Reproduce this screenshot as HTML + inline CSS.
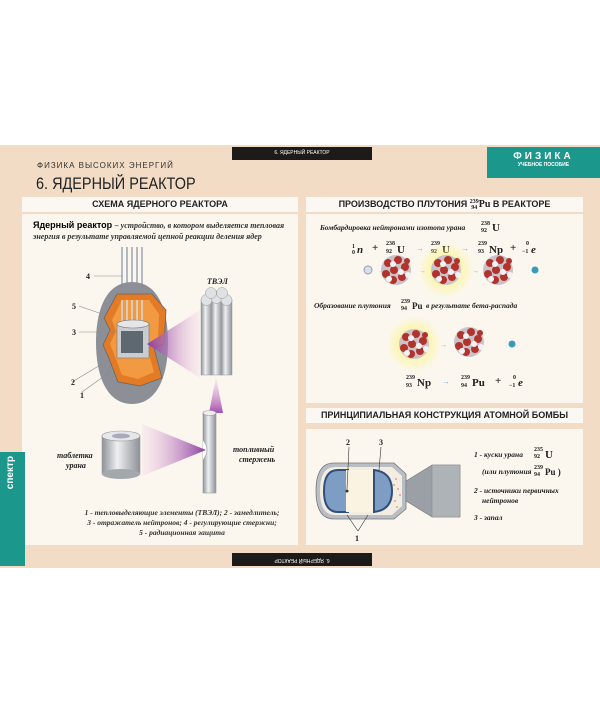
<!DOCTYPE html>
<html><head><meta charset="utf-8"><style>
body{margin:0;width:600px;height:713px;background:#fff;position:relative;overflow:hidden;font-family:"Liberation Sans",sans-serif}
.a{position:absolute}
.hd{position:absolute;background:#fbf8f4;font-weight:bold;font-size:9px;text-align:center;line-height:15px;color:#222}
.pn{position:absolute;background:#fbf7ef}
.it{font-family:"Liberation Serif",serif;font-style:italic;font-weight:bold;color:#333}
.sf{font-family:"Liberation Serif",serif;font-weight:bold;color:#222}
</style></head><body>
<div class="a" style="left:0;top:145px;width:600px;height:423px;background:#f2dcc6"></div>
<div class="a" style="left:232px;top:147px;width:140px;height:13px;background:#1d1a1a;color:#fff;font-size:5px;text-align:center;line-height:13px">6. ЯДЕРНЫЙ РЕАКТОР</div>
<div class="a" style="left:487px;top:147px;width:113px;height:31px;background:#1c978c;color:#fff;text-align:center">
<div style="font-weight:bold;font-size:10px;letter-spacing:3px;margin-top:4px">ФИЗИКА</div><div style="font-size:5px;font-weight:bold">УЧЕБНОЕ ПОСОБИЕ</div></div>
<div class="a" style="left:37px;top:161px;font-size:8px;letter-spacing:1px;color:#333">ФИЗИКА ВЫСОКИХ ЭНЕРГИЙ</div>
<div class="a" style="left:36px;top:174px;font-size:17px;color:#222;transform:scaleX(.85);transform-origin:left">6. ЯДЕРНЫЙ РЕАКТОР</div>
<div class="hd" style="left:22px;top:197px;width:276px">СХЕМА ЯДЕРНОГО РЕАКТОРА</div>
<div class="hd" style="left:306px;top:197px;width:277px">ПРОИЗВОДСТВО ПЛУТОНИЯ <span class="sf" style="font-size:6px;display:inline-block;line-height:6px;vertical-align:middle">239<br>94</span><span class="sf" style="font-size:10px">Pu</span> В РЕАКТОРЕ</div>
<div class="pn" style="left:22px;top:214px;width:276px;height:331px"></div>
<div class="pn" style="left:306px;top:214px;width:277px;height:189px"></div>
<div class="hd" style="left:306px;top:408px;width:277px">ПРИНЦИПИАЛЬНАЯ КОНСТРУКЦИЯ АТОМНОЙ БОМБЫ</div>
<div class="pn" style="left:306px;top:429px;width:277px;height:116px"></div>
<div class="a" style="left:232px;top:553px;width:140px;height:13px;background:#1d1a1a;color:#fff;font-size:5px;text-align:center;line-height:13px;transform:rotate(180deg)">6. ЯДЕРНЫЙ РЕАКТОР</div>
<div class="a" style="left:0;top:452px;width:25px;height:114px;background:#1c978c"></div>
<div class="a" style="left:5px;top:456px;color:#fff;font-size:10px;font-weight:bold;writing-mode:vertical-rl;transform:rotate(180deg)">спектр</div>
<div class="a" style="left:33px;top:220px;font-size:9px;line-height:11px;width:260px"><b style="font-size:9px">Ядерный реактор</b> <span class="it" style="font-size:8px">– устройство, в котором выделяется тепловая энергия в результате управляемой цепной реакции деления ядер</span></div>
<svg class="a" style="left:22px;top:214px" width="276" height="331">
<defs><linearGradient id="pk" x1="0" x2="1"><stop offset="0" stop-color="#8a3ea0"/><stop offset="1" stop-color="#f3c6e4" stop-opacity=".2"/></linearGradient>
<linearGradient id="pk2" x1="1" x2="0"><stop offset="0" stop-color="#8a3ea0"/><stop offset="1" stop-color="#f3c6e4" stop-opacity=".2"/></linearGradient>
<linearGradient id="pkv" x1="0" y1="1" x2="0" y2="0"><stop offset="0" stop-color="#a24fb0"/><stop offset="1" stop-color="#f3c6e4" stop-opacity=".3"/></linearGradient>
<linearGradient id="cy" x1="0" x2="1"><stop offset="0" stop-color="#8d9196"/><stop offset=".4" stop-color="#eef0f2"/><stop offset="1" stop-color="#8d9196"/></linearGradient></defs>
<g stroke="#b4b8c0" stroke-width="2"><line x1="100" y1="33" x2="100" y2="80"/><line x1="105" y1="33" x2="105" y2="80"/><line x1="110" y1="33" x2="110" y2="80"/><line x1="115" y1="33" x2="115" y2="80"/><line x1="120" y1="33" x2="120" y2="80"/></g>
<path d="M110 68 C138 68 146 100 146 128 C146 168 132 190 110 190 C88 190 74 168 74 128 C74 100 82 68 110 68Z" fill="#8c9096"/>
<path d="M95 80 L130 80 L144 96 L142 130 L132 134 L140 164 L118 172 L96 168 L86 142 L81 131 L88 116 L82 104 Z" fill="#e27a26" stroke="#666" stroke-width=".8"/>
<path d="M100 86 L127 86 L137 100 L136 128 L125 133 L132 158 L116 165 L100 161 L92 140 L88 130 L94 117 L90 106 Z" fill="#f29a42"/>
<g stroke="#d7dae0" stroke-width="1.5"><line x1="100" y1="86" x2="100" y2="110"/><line x1="105" y1="86" x2="105" y2="110"/><line x1="110" y1="86" x2="110" y2="110"/><line x1="115" y1="86" x2="115" y2="110"/><line x1="120" y1="86" x2="120" y2="110"/></g>
<rect x="95" y="110" width="32" height="34" fill="#c9ccd0" stroke="#777" stroke-width=".6"/>
<ellipse cx="111" cy="110" rx="16" ry="4" fill="#e4e6e8" stroke="#777" stroke-width=".6"/>
<rect x="99" y="117" width="22" height="22" fill="#5e6870"/>
<polygon points="125,130 178,96 178,164" fill="url(#pk)"/>
<g fill="url(#cy)" stroke="#999" stroke-width=".5"><rect x="179" y="86" width="11" height="75"/><rect x="189" y="84" width="11" height="77"/><rect x="199" y="86" width="11" height="75"/></g>
<g fill="#dfe2e5" stroke="#999" stroke-width=".5"><circle cx="184.5" cy="86" r="5.5"/><circle cx="194.5" cy="84" r="5.5"/><circle cx="204.5" cy="86" r="5.5"/><circle cx="189" cy="79" r="5.5"/><circle cx="200" cy="79" r="5.5"/></g>
<polygon points="194,163 187,199 201,199" fill="url(#pkv)"/>
<rect x="181" y="199" width="13" height="80" fill="url(#cy)" stroke="#999" stroke-width=".6"/>
<ellipse cx="187.5" cy="199" rx="6.5" ry="2.5" fill="#eee" stroke="#999" stroke-width=".6"/>
<path d="M181 226 Q189 236 181 246" fill="#fff" stroke="#999" stroke-width=".6"/>
<polygon points="120,210 184,236 120,262" fill="url(#pk2)"/>
<rect x="80" y="222" width="38" height="38" fill="url(#cy)" stroke="#999" stroke-width=".6"/>
<ellipse cx="99" cy="260" rx="19" ry="5" fill="#a3a8ad"/>
<ellipse cx="99" cy="222" rx="19" ry="5" fill="#e5e7e9" stroke="#999" stroke-width=".6"/>
<ellipse cx="99" cy="222" rx="9" ry="2.5" fill="#aab"/>
<g stroke="#888" stroke-width=".6"><line x1="72" y1="62" x2="100" y2="62"/><line x1="57" y1="92" x2="80" y2="100"/><line x1="57" y1="118" x2="95" y2="118"/><line x1="50" y1="168" x2="80" y2="150"/><line x1="60" y1="178" x2="88" y2="158"/></g>
<g font-family="Liberation Serif" font-weight="bold" font-size="8" fill="#222"><text x="64" y="65">4</text><text x="50" y="95">5</text><text x="50" y="121">3</text><text x="49" y="171">2</text><text x="58" y="184">1</text>
<text x="185" y="70" font-style="italic">ТВЭЛ</text>
<text x="35" y="244" font-style="italic">таблетка</text><text x="44" y="254" font-style="italic">урана</text>
<text x="211" y="238" font-style="italic">топливный</text><text x="217" y="248" font-style="italic">стержень</text></g>
<g font-family="Liberation Serif" font-weight="bold" font-style="italic" font-size="7.5" fill="#333" text-anchor="middle"><text x="160" y="301">1 - тепловыделяющие элементы (ТВЭЛ);   2 - замедлитель;</text><text x="160" y="311">3 - отражатель нейтронов;  4 - регулирующие стержни;</text><text x="160" y="321">5 - радиационная защита</text></g>
</svg>
<svg class="a" style="left:306px;top:214px" width="277" height="189">
<defs><radialGradient id="gl"><stop offset="0" stop-color="#fff36a"/><stop offset="1" stop-color="#fff36a" stop-opacity="0"/></radialGradient>
<g id="nu"><circle r="15" fill="#c9c2c8"/><g fill="#b2332b"><circle cx="-8" cy="-7" r="4"/><circle cx="2" cy="-10" r="4"/><circle cx="9" cy="-3" r="4"/><circle cx="-2" cy="0" r="4"/><circle cx="-10" cy="4" r="4"/><circle cx="6" cy="7" r="4"/><circle cx="-3" cy="10" r="4"/><circle cx="11" cy="-9" r="3"/></g><g fill="#f2f2f4"><circle cx="-3" cy="-6" r="3"/><circle cx="5" cy="2" r="3"/><circle cx="-7" cy="9" r="3"/><circle cx="12" cy="5" r="3"/></g></g></defs>
<g font-family="Liberation Serif" font-weight="bold" fill="#222">
<text x="14" y="16" font-size="7.5" font-style="italic">Бомбардировка нейтронами изотопа урана</text>
<text x="175" y="11" font-size="6">238</text><text x="175" y="18" font-size="6">92</text><text x="186" y="17" font-size="11">U</text>
<g font-size="11"><text x="46" y="34" font-size="6">1</text><text x="46" y="40" font-size="6">0</text><text x="51" y="39" font-style="italic">n</text><text x="66" y="37">+</text>
<text x="80" y="31" font-size="6">238</text><text x="80" y="39" font-size="6">92</text><text x="91" y="39">U</text><text x="110" y="37" fill="#6bc" font-size="8">→</text>
<text x="125" y="31" font-size="6">239</text><text x="125" y="39" font-size="6">92</text><text x="136" y="39">U</text><text x="155" y="37" fill="#6bc" font-size="8">→</text>
<text x="172" y="31" font-size="6">239</text><text x="172" y="39" font-size="6">93</text><text x="183" y="39">Np</text><text x="204" y="37">+</text>
<text x="220" y="31" font-size="6">0</text><text x="216" y="39" font-size="6">−1</text><text x="225" y="39" font-style="italic">e</text></g>
<text x="8" y="94" font-size="7.5" font-style="italic">Образование плутония</text><text x="95" y="89" font-size="6">239</text><text x="95" y="96" font-size="6">94</text><text x="106" y="95" font-size="9">Pu</text><text x="120" y="94" font-size="7.5" font-style="italic">в результате бета-распада</text>
<g font-size="11"><text x="100" y="165" font-size="6">239</text><text x="100" y="173" font-size="6">93</text><text x="111" y="172">Np</text><text x="136" y="170" fill="#6bc" font-size="8">→</text>
<text x="155" y="165" font-size="6">239</text><text x="155" y="173" font-size="6">94</text><text x="166" y="172">Pu</text><text x="189" y="170">+</text>
<text x="207" y="165" font-size="6">0</text><text x="203" y="173" font-size="6">−1</text><text x="212" y="172" font-style="italic">e</text></g></g>
<circle cx="62" cy="56" r="4" fill="#d5dfeb" stroke="#99a"/><text x="72" y="59" fill="#6bc" font-size="7">→</text>
<use href="#nu" x="90" y="56"/><text x="113" y="59" fill="#6bc" font-size="7">→</text>
<circle cx="140" cy="56" r="28" fill="url(#gl)"/><use href="#nu" x="140" y="56"/><text x="166" y="59" fill="#6bc" font-size="7">→</text>
<use href="#nu" x="192" y="56"/><circle cx="229" cy="56" r="3.5" fill="#3a9ab8"/>
<circle cx="108" cy="130" r="28" fill="url(#gl)"/><use href="#nu" x="108" y="130"/><text x="134" y="133" fill="#6bc" font-size="7">→</text>
<use href="#nu" x="163" y="128"/><circle cx="206" cy="130" r="3.5" fill="#3a9ab8"/>
</svg>
<svg class="a" style="left:306px;top:429px" width="277" height="116">
<path d="M28 34 L88 34 L100 45 L100 80 L88 90 L28 90 Q10 90 10 62 Q10 34 28 34Z" fill="#b9bec4" stroke="#777" stroke-width=".8"/>
<path d="M29 38 L86 38 L96 47 L96 77 L86 86 L29 86 Q14 86 14 62 Q14 38 29 38Z" fill="#f3ece0"/>
<path d="M42 41 L32 41 Q18 41 18 62 Q18 83 32 83 L42 83Z" fill="#7d9dc4" stroke="#2f4f7a" stroke-width="2"/>
<rect x="40" y="41" width="28" height="42" fill="#fbf3e2"/>
<path d="M68 41 Q86 43 86 62 Q86 81 68 83Z" fill="#7d9dc4" stroke="#2f4f7a" stroke-width="2"/>
<circle cx="41" cy="62" r="1.5" fill="#333"/>
<g fill="#d88"><circle cx="90" cy="50" r=".9"/><circle cx="92" cy="60" r=".9"/><circle cx="89" cy="72" r=".9"/><circle cx="94" cy="66" r=".9"/><circle cx="88" cy="56" r=".9"/><circle cx="91" cy="78" r=".9"/></g>
<path d="M100 52 L126 36 L154 36 L154 88 L126 88 L100 72Z" fill="#9ba0a6" stroke="#777" stroke-width=".6"/>
<rect x="126" y="36" width="28" height="52" fill="#aeb3b8" stroke="#888" stroke-width=".5"/>
<g stroke="#333" stroke-width=".6"><line x1="43" y1="18" x2="41" y2="60"/><line x1="75" y1="18" x2="73" y2="41"/><line x1="52" y1="102" x2="41" y2="86"/><line x1="52" y1="102" x2="62" y2="86"/></g>
<g font-family="Liberation Serif" font-weight="bold" fill="#222" font-size="8"><text x="40" y="16">2</text><text x="73" y="16">3</text><text x="49" y="112">1</text>
<g font-style="italic" font-size="7.5"><text x="168" y="28">1 - куски урана</text><text x="228" y="22" font-size="6" font-style="normal">235</text><text x="228" y="29" font-size="6" font-style="normal">92</text><text x="239" y="29" font-size="11" font-style="normal">U</text>
<text x="176" y="45">(или плутония</text><text x="228" y="40" font-size="6" font-style="normal">239</text><text x="228" y="47" font-size="6" font-style="normal">94</text><text x="239" y="46" font-size="9" font-style="normal">Pu )</text>
<text x="168" y="64">2 - источники первичных</text><text x="176" y="74">нейтронов</text><text x="168" y="91">3 - запал</text></g></g>
</svg>
</body></html>
